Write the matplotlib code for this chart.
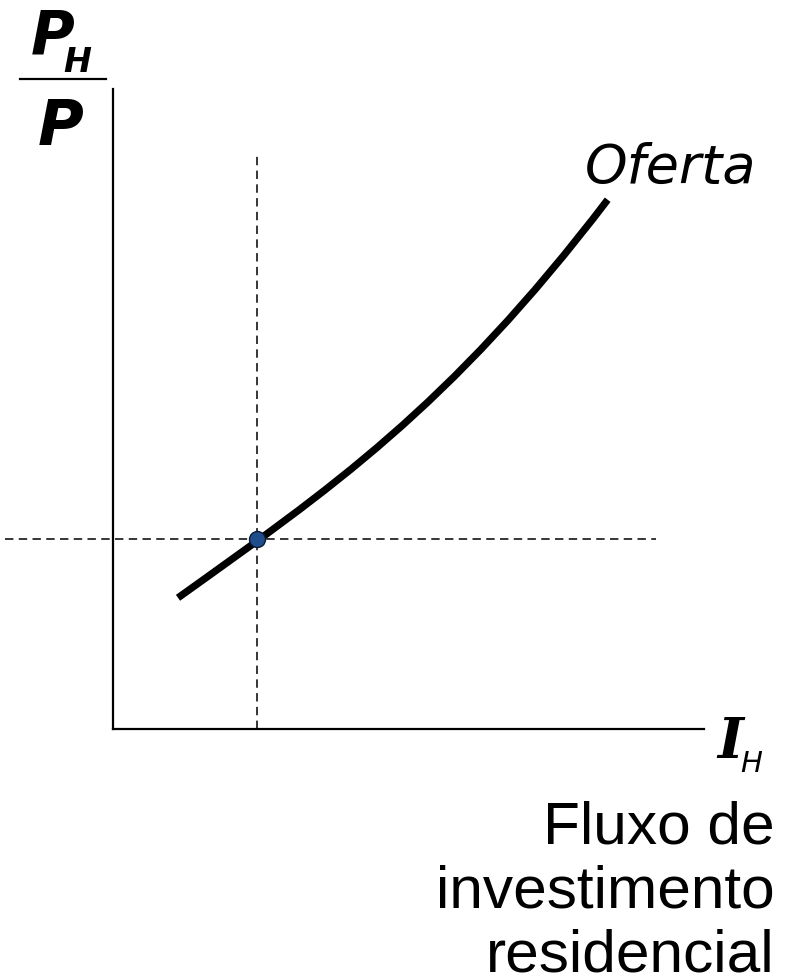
import matplotlib
matplotlib.use("Agg")
import matplotlib.pyplot as plt
from matplotlib.lines import Line2D
from matplotlib.path import Path
from matplotlib.patches import PathPatch

W, H = 798, 977

# Supply curve (Oferta) as a cubic Bezier: start, two control points, end
# (arbitrary units on 0..10 axes)
curve_ctrl_x = [1.10, 3.64, 5.67, 8.37]
curve_ctrl_y = [2.05, 3.73, 5.00, 8.27]
eq_x, eq_y = 2.43, 2.97
vline_top = 9.02
hline_span = [-1.82, 9.19]

curve_label = "Oferta"
x_label_lines = ["Fluxo de", "investimento", "residencial"]


def fx(px):
    return px / W


def fy(py):
    return 1 - py / H


fig = plt.figure(figsize=(W / 100, H / 100), dpi=100)
ax = fig.add_axes([fx(113), fy(729), (704 - 113) / W, (729 - 89) / H])
ax.set_xlim(0, 10)
ax.set_ylim(0, 10)
for s in ["top", "right"]:
    ax.spines[s].set_visible(False)
for s in ["left", "bottom"]:
    ax.spines[s].set_linewidth(1.6)
    ax.spines[s].set_color("black")
ax.set_xticks([])
ax.set_yticks([])
ax.patch.set_alpha(0)

dash = (0, (5.5, 3.5))
ax.plot([eq_x, eq_x], [0, vline_top], color="black", lw=1.1, linestyle=dash, clip_on=False)
ax.plot(hline_span, [eq_y, eq_y], color="black", lw=1.1, linestyle=dash, clip_on=False)

verts = list(zip(curve_ctrl_x, curve_ctrl_y))
codes = [Path.MOVETO, Path.CURVE4, Path.CURVE4, Path.CURVE4]
ax.add_patch(PathPatch(Path(verts, codes), facecolor="none", edgecolor="black",
                       lw=5.2, capstyle="butt", clip_on=False, zorder=3))
ax.plot([eq_x], [eq_y], marker="o", markersize=11.5, markerfacecolor="#1f4e8c",
        markeredgecolor="#0a1a33", markeredgewidth=1.0, clip_on=False, zorder=5)

# Curve label
fig.text(fx(585), fy(183), curve_label, fontsize=39, style="italic",
         family="DejaVu Sans", va="baseline", ha="left")

# Y label: P_H / P
fig.text(fx(31), fy(53), "P", fontsize=43, style="italic", weight="bold",
         family="DejaVu Sans", va="baseline", ha="left")
fig.text(fx(63), fy(72), "H", fontsize=24, style="italic", weight="bold",
         family="DejaVu Sans", va="baseline", ha="left")
fig.add_artist(Line2D([fx(20), fx(106)], [fy(79), fy(79)], color="black", lw=1.6))
fig.text(fx(61), fy(145), "P", fontsize=45, style="italic", weight="bold",
         family="DejaVu Sans", va="baseline", ha="center")

# X label: I_H
fig.text(fx(717), fy(758), "I", fontsize=40, style="italic", weight="bold",
         family="DejaVu Serif", va="baseline", ha="left")
fig.text(fx(740), fy(772), "H", fontsize=21, style="italic",
         family="DejaVu Sans", va="baseline", ha="left")

baselines = [844, 908, 971]
for line, b in zip(x_label_lines, baselines):
    fig.text(fx(775), fy(b), line, fontsize=43.5, family="Liberation Sans",
             va="baseline", ha="right")

fig.savefig("out.png", dpi=100)
